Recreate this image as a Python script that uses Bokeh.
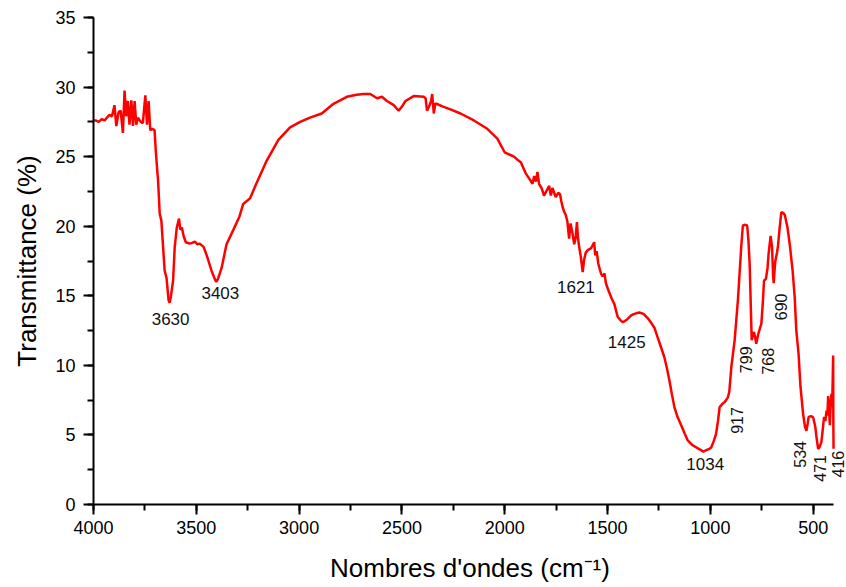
from bokeh.plotting import figure
from bokeh.models import Range1d, SingleIntervalTicker, ColumnDataSource, LabelSet
from bokeh.core.properties import value
from bokeh.embed import file_html
from bokeh.resources import INLINE
import math

# FTIR spectrum
wavenumber = [
    4000, 3990, 3975, 3960, 3946, 3935, 3922, 3910, 3898, 3889, 3878, 3868, 3857, 3849, 3841,
    3833, 3825, 3816, 3808, 3800, 3792, 3784, 3770, 3760, 3748, 3740, 3732, 3724, 3715, 3703,
    3697, 3691, 3686, 3678, 3670, 3654, 3645, 3635, 3630, 3624, 3613, 3605, 3595, 3584, 3578,
    3570, 3562, 3551, 3532, 3520, 3507, 3495, 3483, 3464, 3447, 3426, 3410, 3403, 3395, 3377,
    3353, 3321, 3290, 3272, 3239, 3210, 3158, 3101, 3044, 2995, 2947, 2890, 2833, 2768, 2720,
    2687, 2654, 2621, 2597, 2573, 2540, 2516, 2500, 2483, 2443, 2394, 2385, 2378, 2368, 2358,
    2353, 2345, 2338, 2332, 2300, 2264, 2215, 2150, 2085, 2036, 2000, 1970, 1955, 1940, 1922,
    1898, 1880, 1865, 1857, 1848, 1841, 1833, 1820, 1809, 1795, 1784, 1776, 1768, 1752, 1740,
    1731, 1725, 1719, 1710, 1703, 1695, 1687, 1680, 1672, 1662, 1655, 1649, 1644, 1638, 1630,
    1621, 1614, 1606, 1595, 1581, 1565, 1560, 1553, 1545, 1532, 1524, 1515, 1508, 1496, 1480,
    1467, 1451, 1435, 1425, 1405, 1385, 1370, 1346, 1325, 1305, 1290, 1272, 1256, 1240, 1224,
    1210, 1199, 1187, 1175, 1160, 1142, 1125, 1110, 1090, 1069, 1050, 1034, 1020, 1005, 996,
    985, 972, 963, 955, 940, 931, 915, 908, 898, 882, 866, 858, 850, 842, 830,
    821, 815, 809, 803, 799, 794, 788, 782, 777, 768, 760, 752, 745, 739, 730,
    722, 717, 707, 700, 695, 692, 688, 684, 676, 671, 663, 655, 645, 638, 625,
    614, 600, 590, 582, 571, 562, 549, 540, 533, 527, 522, 510, 500, 490, 484,
    476, 470, 460, 452, 447, 441, 435, 431, 427, 423, 419, 415, 411, 408, 405,
    403, 402, 401,
]
transmittance = [
    27.6, 27.6, 27.5, 27.7, 27.6, 27.8, 28.0, 27.9, 28.7, 27.2, 28.2, 28.3, 26.7, 29.75, 27.9,
    29.0, 27.3, 29.05, 27.2, 29.0, 27.3, 27.8, 27.5, 27.4, 29.4, 27.3, 29.0, 26.9, 27.0, 26.9,
    25.4, 24.2, 23.3, 20.9, 20.4, 16.8, 16.3, 14.7, 14.5, 14.9, 16.1, 18.5, 19.9, 20.55, 19.75,
    19.9, 19.3, 18.85, 18.75, 18.8, 18.9, 18.7, 18.75, 18.5, 17.8, 16.8, 16.2, 16.0, 16.2, 17.0,
    18.7, 19.7, 20.7, 21.6, 22.0, 23.0, 24.7, 26.2, 27.1, 27.5, 27.8, 28.1, 28.8, 29.3, 29.45,
    29.5, 29.5, 29.2, 29.3, 29.0, 28.7, 28.3, 28.6, 29.0, 29.35, 29.3, 29.2, 28.3, 28.6, 29.0,
    29.5, 28.1, 28.8, 28.8, 28.6, 28.4, 28.1, 27.6, 27.0, 26.3, 25.3, 25.1, 25.0, 24.8, 24.6,
    23.8, 23.4, 23.05, 23.6, 23.2, 23.9, 23.05, 22.7, 22.2, 22.6, 22.9, 22.2, 22.75, 22.1, 22.4,
    22.3, 21.8, 21.4, 21.0, 20.8, 20.3, 19.1, 20.2, 19.6, 18.7, 19.2, 20.3, 19.2, 18.5, 17.8,
    16.7, 17.6, 18.1, 18.3, 18.4, 18.85, 17.9, 18.2, 17.3, 16.6, 16.4, 16.6, 15.9, 15.4, 14.8,
    14.4, 13.5, 13.2, 13.1, 13.3, 13.6, 13.7, 13.8, 13.7, 13.4, 13.1, 12.7, 12.0, 11.3, 10.6,
    9.7, 8.9, 7.9, 7.0, 6.3, 5.7, 5.1, 4.6, 4.3, 4.1, 3.95, 3.8, 3.9, 4.0, 4.1,
    4.5, 5.1, 6.0, 7.0, 7.25, 7.35, 7.7, 8.1, 9.9, 11.8, 14.7, 16.6, 18.5, 20.05, 20.1,
    20.05, 19.0, 17.3, 14.0, 11.8, 12.1, 12.4, 12.0, 11.55, 12.2, 12.6, 13.0, 14.5, 16.1, 16.2,
    17.0, 18.0, 19.3, 18.5, 16.5, 15.9, 16.8, 17.5, 18.1, 18.6, 19.9, 21.0, 20.95, 20.8, 19.9,
    18.7, 16.8, 14.9, 12.5, 10.8, 8.5, 6.5, 5.6, 5.3, 5.8, 6.3, 6.35, 6.25, 5.6, 4.85,
    4.0, 4.1, 4.5, 5.6, 6.3, 6.0, 6.75, 6.4, 7.8, 6.9, 5.7, 7.2, 7.95, 7.0, 9.0,
    10.7, 6.0, 4.0,
]

# Peak annotations (horizontal)
h_labels = ["3630", "3403", "1621", "1425", "1034"]
h_x = [3625, 3383, 1654, 1407, 1025]
h_y = [13.3, 15.2, 15.6, 11.66, 2.9]

# Peak annotations (vertical)
v_labels = ["917", "799", "768", "690", "534", "471", "416"]
v_x = [872, 825, 720, 655, 562, 467, 381]
v_y = [6.04, 10.4, 10.3, 14.2, 3.6, 2.6, 2.9]

x_ticks_interval = 500
y_ticks_interval = 5

p = figure(width=846, height=587, output_backend="svg", toolbar_location=None,
           x_range=Range1d(4000, 338), y_range=Range1d(0, 35),
           min_border_left=93, min_border_right=0, min_border_top=17, min_border_bottom=83)
p.background_fill_color = "white"
p.border_fill_color = "white"
p.outline_line_color = None
p.xgrid.visible = False
p.ygrid.visible = False

p.line(wavenumber, transmittance, line_color="#ff0000", line_width=2.5)

src_h = ColumnDataSource(dict(x=h_x, y=h_y, t=h_labels))
p.add_layout(LabelSet(x="x", y="y", text="t", source=src_h, text_align="center",
                      text_baseline="middle", text_font=value("Liberation Sans"),
                      text_font_size="17px", text_color="#111111"))
src_v = ColumnDataSource(dict(x=v_x, y=v_y, t=v_labels))
p.add_layout(LabelSet(x="x", y="y", text="t", source=src_v, text_align="center",
                      text_baseline="middle", angle=math.pi / 2, text_font=value("Liberation Sans"),
                      text_font_size="16px", text_color="#111111"))

for ax in (p.xaxis[0], p.yaxis[0]):
    ax.axis_line_width = 2
    ax.axis_line_color = "black"
    ax.major_tick_line_width = 2
    ax.minor_tick_line_width = 2
    ax.major_tick_line_color = "black"
    ax.minor_tick_line_color = "black"
    ax.major_tick_in = 0
    ax.minor_tick_in = 0
    ax.major_tick_out = 10
    ax.minor_tick_out = 6
    ax.major_label_text_font = "Liberation Sans"
    ax.major_label_text_font_size = "18px"
    ax.major_label_text_color = "black"
    ax.axis_label_text_font = "Liberation Sans"
    ax.axis_label_text_font_size = "26px"
    ax.axis_label_text_font_style = "normal"
    ax.axis_label_text_color = "black"

p.xaxis[0].bounds = (400, 4000)
p.xaxis[0].ticker = SingleIntervalTicker(interval=x_ticks_interval, num_minor_ticks=2)
p.yaxis[0].ticker = SingleIntervalTicker(interval=y_ticks_interval, num_minor_ticks=2)
p.xaxis[0].axis_label = "Nombres d'ondes (cm\u207b\u00b9)"
p.yaxis[0].axis_label = "Transmittance (%)"
p.xaxis[0].major_label_standoff = 6
p.yaxis[0].major_label_standoff = 8
p.xaxis[0].axis_label_standoff = 16
p.yaxis[0].axis_label_standoff = 10

open("out.html", "w").write(file_html(p, INLINE))
